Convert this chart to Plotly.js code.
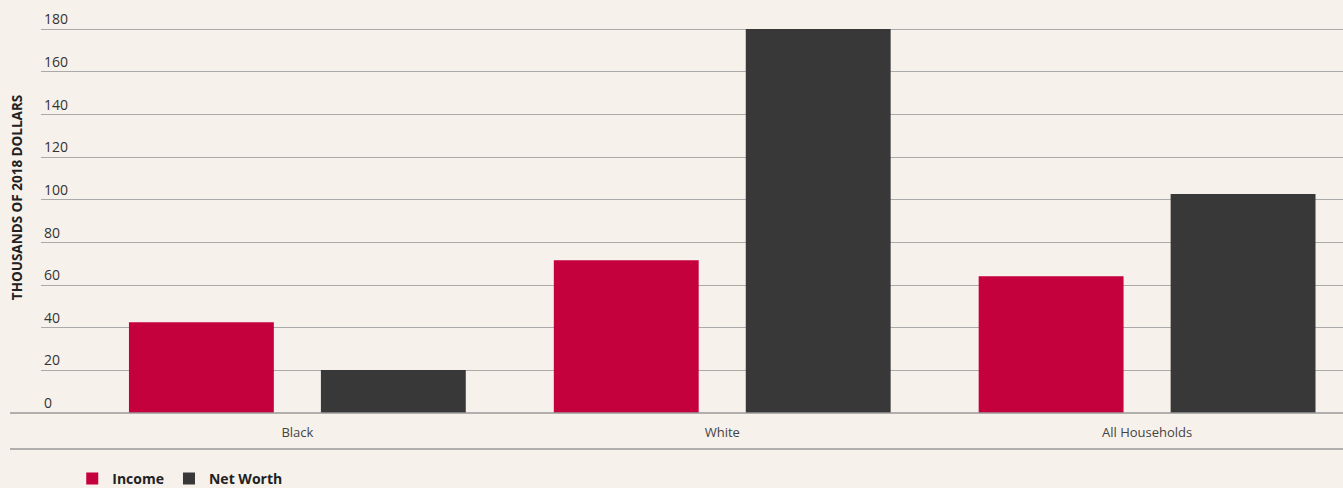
<!DOCTYPE html>
<html>
<head>
<meta charset="utf-8">
<script src="https://cdn.plot.ly/plotly-3.0.1.min.js"></script>
<style>
html,body{margin:0;padding:0;background:#f7f1eb;}
#chart{width:1343px;height:488px;}
</style>
</head>
<body>
<div id="chart"></div>
<script>
const categories = ["Black", "White", "All Households"];
const incomeValues = [42.6, 71.7, 64.2];
const netWorthValues = [20.2, 180.2, 102.7];
const seriesNames = ["Income", "Net Worth"];
const yTickValues = [0, 20, 40, 60, 80, 100, 120, 140, 160, 180];
const yAxisTitle = "THOUSANDS OF 2018 DOLLARS";

const W = 1343, H = 488;
const pxPerUnit = 384 / 180;
const yMax = 190;
const mL = 41, mR = 0, mB = 75;
const mT = 29 - (yMax - 180) * pxPerUnit;
const plotW = W - mL - mR, plotH = H - mT - mB;
const font = "'Open Sans', 'Noto Sans', sans-serif";

const traces = [
  {type: "bar", name: seriesNames[0], x: categories, y: incomeValues,
   marker: {color: "#c4003d"}, width: 0.341, offset: -0.3965, hoverinfo: "y"},
  {type: "bar", name: seriesNames[1], x: categories, y: netWorthValues,
   marker: {color: "#383838"}, width: 0.341, offset: 0.0553, hoverinfo: "y"}
];

const layout = {
  width: W, height: H,
  margin: {l: mL, r: mR, t: mT, b: mB, pad: 0, autoexpand: false},
  paper_bgcolor: "#f7f1eb",
  plot_bgcolor: "#f7f1eb",
  font: {family: font, color: "#333"},
  barmode: "group",
  showlegend: true,
  legend: {
    orientation: "h", x: 0.024, xanchor: "left", y: -(463 - 413) / plotH, yanchor: "top",
    font: {family: font, size: 14, color: "#222", weight: "bold"},
    bgcolor: "rgba(0,0,0,0)", itemwidth: 30, tracegroupgap: 0
  },
  xaxis: {
    type: "category",
    range: [-0.6035, 2.461],
    showgrid: false, zeroline: false, showline: false,
    ticks: "", ticklen: 0, ticklabelstandoff: 10,
    tickfont: {family: font, size: 13, color: "#444"},
    fixedrange: true
  },
  yaxis: {
    range: [0, yMax],
    tickvals: yTickValues,
    ticktext: yTickValues.map(String),
    ticklabelposition: "inside top",
    tickfont: {family: font, size: 14, color: "#333"},
    showgrid: true, gridcolor: "#aaaaaa", gridwidth: 1,
    zeroline: false, showline: false, ticks: "",
    fixedrange: true
  },
  shapes: [
    {type: "line", xref: "paper", yref: "paper",
     x0: (10 - mL) / plotW, x1: 1, y0: 0, y1: 0,
     line: {color: "#999999", width: 1.5}},
    {type: "line", xref: "paper", yref: "paper",
     x0: (10 - mL) / plotW, x1: 1, y0: -(449 - 413) / plotH, y1: -(449 - 413) / plotH,
     line: {color: "#999999", width: 1.5}}
  ],
  annotations: [
    {text: yAxisTitle, textangle: -90, xref: "paper", yref: "paper",
     x: (17 - mL) / plotW, y: (413 - 198) / plotH, xanchor: "center", yanchor: "middle",
     showarrow: false, font: {family: font, size: 13.5, color: "#222", weight: "bold"}}
  ]
};

Plotly.newPlot("chart", traces, layout, {displayModeBar: false, staticPlot: true});
</script>
</body>
</html>
